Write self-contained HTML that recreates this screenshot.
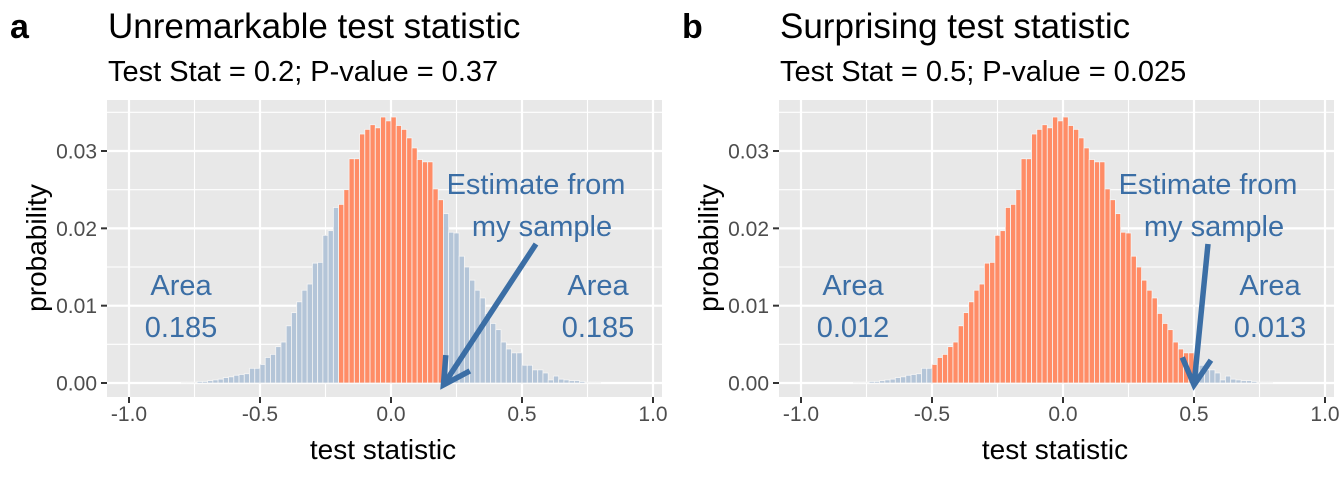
<!DOCTYPE html>
<html><head><meta charset="utf-8"><style>
body{margin:0;background:#fff;}
svg{display:block;font-family:"Liberation Sans",Arial,sans-serif;}
</style></head><body>
<svg id="chart" width="1344" height="480" viewBox="0 0 1344 480" xmlns="http://www.w3.org/2000/svg">
</svg>
<script>
// bin centers (bin width 0.02)
const binCenters = [];
for (let k = -40; k < 40; k++) binCenters.push((k * 0.02 + 0.01));
// probability per bin (k=-40 .. 39)
const probLeft = [0.0001,0.0001,0.0001,0.0002,0.0002,0.0003,0.0004,0.0005,0.0007,0.0008,
  0.0010,0.0011,0.0012,0.0019,0.0019,0.0024,0.0033,0.0037,0.0047,0.0053,
  0.0074,0.0091,0.0105,0.0120,0.0128,0.0155,0.0156,0.0191,0.0197,0.0227];
const probMid = [0.0231,0.0250,0.0290,0.0290,0.0322,0.0328,0.0334,0.0330,0.0344,0.0339,
  0.0344,0.0333,0.0328,0.0317,0.0304,0.0289,0.0286,0.0286,0.0251,0.0237];
const probRight = [0.0219,0.0195,0.0194,0.0164,0.0150,0.0133,0.0120,0.0110,0.0090,0.0077,
  0.0069,0.0053,0.0044,0.0039,0.0039,0.0023,0.0023,0.0017,0.0017,0.0013,
  0.0004,0.0009,0.0005,0.0004,0.0003,0.0003,0.0002,0.0001,0.0001,0.0001];
const probs = probLeft.concat(probMid, probRight);
const xTicks = [-1.0,-0.5,0.0,0.5,1.0];
const xTickLabels = ["-1.0","-0.5","0.0","0.5","1.0"];
const yTicks = [0,0.01,0.02,0.03];
const yTickLabels = ["0.00","0.01","0.02","0.03"];
const panels = [
  {id:"a", off:0, title:"Unremarkable test statistic", sub:"Test Stat = 0.2; P-value = 0.37", stat:0.2, cut:0.2, areaL:"0.185", areaR:"0.185"},
  {id:"b", off:672, title:"Surprising test statistic", sub:"Test Stat = 0.5; P-value = 0.025", stat:0.5, cut:0.5, areaL:"0.012", areaR:"0.013"}
];
const NS = "http://www.w3.org/2000/svg";
const svg = document.getElementById("chart");
function mk(tag, attrs, parent, text){
  const e = document.createElementNS(NS, tag);
  for (const k in attrs) e.setAttribute(k, attrs[k]);
  if (text !== undefined) e.textContent = text;
  (parent||svg).appendChild(e); return e;
}
const BW = 0.02;
const Y = v => 383 - v * 7733;
panels.forEach(p => {
  const X = v => 391 + p.off + v * 262;
  const g = mk("g", {});
  
  
  const bg = mk("rect", {x:107+p.off, y:100, width:555, height:297, fill:"#e8e8e8"}, g);
  
  
  [-0.75,-0.25,0.25,0.75].forEach(v => mk("line",{x1:X(v),x2:X(v),y1:100,y2:397,stroke:"#fff","stroke-width":1.1},g));
  [0.005,0.015,0.025,0.035].forEach(v => mk("line",{x1:107+p.off,x2:662+p.off,y1:Y(v),y2:Y(v),stroke:"#fff","stroke-width":1.1},g));
  xTicks.forEach(v => mk("line",{x1:X(v),x2:X(v),y1:100,y2:397,stroke:"#fff","stroke-width":2.2},g));
  yTicks.forEach(v => mk("line",{x1:107+p.off,x2:662+p.off,y1:Y(v),y2:Y(v),stroke:"#fff","stroke-width":2.2},g));
  binCenters.forEach((c,i) => {
    const inMid = Math.abs(c) < p.cut;
    const r = mk("rect",{x:X(c-BW/2), y:Y(probs[i]), width:X(c+BW/2)-X(c-BW/2), height:Y(0)-Y(probs[i]),
      fill: inMid ? "#ff8c66" : "#b4c5d8", stroke:"#f5f5f5","stroke-width":0.8}, g);
    
    
  });
  xTicks.forEach((v,i) => {
    mk("line",{x1:X(v),x2:X(v),y1:397,y2:403,stroke:"#333","stroke-width":2},g);
    const t = mk("text",{x:X(v),y:421,"font-size":21,fill:"#4d4d4d","text-anchor":"middle"},g,xTickLabels[i]);
    
    
  });
  yTicks.forEach((v,i) => {
    mk("line",{x1:101+p.off,x2:107+p.off,y1:Y(v),y2:Y(v),stroke:"#333","stroke-width":2},g);
    const t = mk("text",{x:97+p.off,y:Y(v)+7.5,"font-size":21,fill:"#4d4d4d","text-anchor":"end"},g,yTickLabels[i]);
    
    
  });
  const xt = mk("text",{x:383+p.off,y:459,"font-size":28,fill:"#000","text-anchor":"middle"},g,"test statistic");
  
  
  const yt = mk("text",{x:0,y:0,"font-size":28,fill:"#000","text-anchor":"middle",transform:`translate(${46+p.off},248) rotate(-90)`},g,"probability");
  
  
  const tl = mk("text",{x:108+p.off,y:38,"font-size":35,fill:"#000"},g,p.title);
  
  
  const st = mk("text",{x:108+p.off,y:81,"font-size":29,fill:"#000"},g,p.sub);
  
  
  const lb = mk("text",{x:10+p.off,y:38,"font-size":34,"font-weight":"bold",fill:"#000"},g,p.id);
  
  
  const ac = "#3b6ea5";
  const ann = (x,y,s,name) => { const t = mk("text",{x:x,y:y,"font-size":29,fill:ac,"text-anchor":"middle"},g,s);
    
     };
  ann(181+p.off,295,"Area","area-left-label");
  ann(181+p.off,337,p.areaL,"area-left-value");
  ann(598+p.off,295,"Area","area-right-label");
  ann(598+p.off,337,p.areaR,"area-right-value");
  ann(536+p.off,194,"Estimate from","estimate-label");
  ann(542+p.off,236,"my sample","estimate-label-2");
  const tipX = X(p.stat), tipY = 385;
  const tailX = p.id==="a" ? 536 : 1208, tailY = 244;
  const ang = Math.atan2(tipY-tailY, tipX-tailX);
  const L = 30, sp = 0.5;
  const a1x = tipX - L*Math.cos(ang-sp), a1y = tipY - L*Math.sin(ang-sp);
  const a2x = tipX - L*Math.cos(ang+sp), a2y = tipY - L*Math.sin(ang+sp);
  const ar = mk("path",{d:`M${tailX},${tailY} L${tipX},${tipY} M${a1x},${a1y} L${tipX},${tipY} L${a2x},${a2y}`,
    stroke:ac,"stroke-width":5.5,fill:"none","stroke-linecap":"butt"},g);
  
  
});
</script>
</body></html>
